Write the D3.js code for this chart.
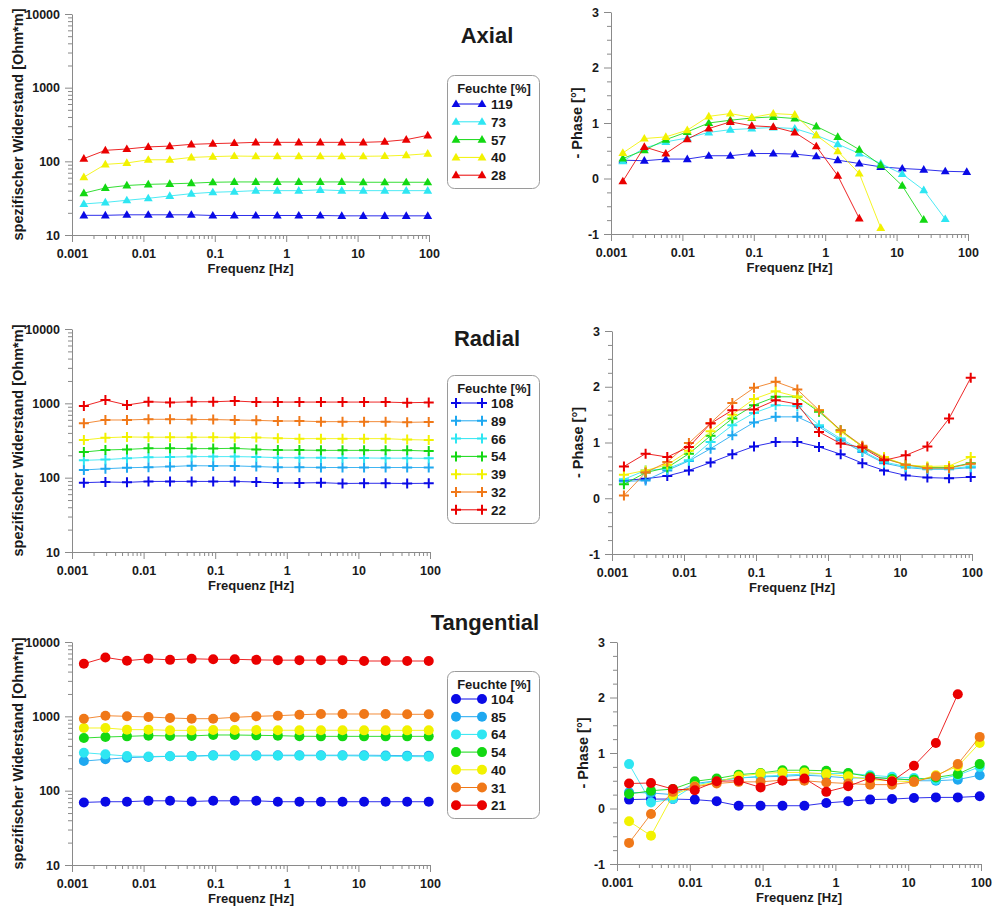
<!DOCTYPE html>
<html><head><meta charset="utf-8">
<script src="https://cdn.jsdelivr.net/npm/d3@7"></script>
<style>
body{margin:0;background:#fff}
svg{display:block}
text{font-family:"Liberation Sans",Arial,Helvetica,sans-serif;font-weight:bold;fill:#1a1a1a}
.tick text{font-size:12.5px}
.domain,.tick line{stroke:#8a8a8a;stroke-width:1}
</style>
</head><body>
<svg id="c" width="997" height="909"></svg>
<script>
// ---------------- data ----------------
const freqHz = [0.001465, 0.00293, 0.00586, 0.0117, 0.0234, 0.0469, 0.0938, 0.1875, 0.375, 0.75, 1.5, 3, 6, 12, 24, 48, 96];
const xTickValues = [0.001, 0.01, 0.1, 1, 10, 100];
const xTickLabels = ["0.001", "0.01", "0.1", "1", "10", "100"];
const resTickValues = [10, 100, 1000, 10000];
const resTickLabels = ["10", "100", "1000", "10000"];
const phaseTickValues = [-1, 0, 1, 2, 3];
const phaseTickLabels = ["-1", "0", "1", "2", "3"];
const panelTitles = ["Axial", "Radial", "Tangential"];

const cBlue = "#0a0ae6", cLightBlue = "#1ea8f0", cCyan = "#2ee6f2", cGreen = "#12d812",
      cYellow = "#f2f200", cOrange = "#f07818", cRed = "#ea0000";

// Axial
const axialMoisture = ["119", "73", "57", "40", "28"];
const axialColors = [cBlue, cCyan, cGreen, cYellow, cRed];
const axialRes119 = [18.5,18.5,18.8,18.8,18.8,18.8,18.4,18.4,18.4,18.4,18.4,18.4,18.2,18.2,18.2,18.2,18.2];
const axialRes73  = [26.4,27.7,29.6,31.5,33.9,36.4,38,38.8,40,40,40,41,40,40,40,40,40];
const axialRes57  = [37,43.5,47,48.7,49.5,50.5,52,52.5,52.5,52.5,52.5,52.5,52.5,52,52,52,52];
const axialRes40  = [61,91,95,105,105,113,116,118,117,117,117,117,117,117,118,121,127];
const axialRes28  = [109,141,147,157,161,170,174,177,181,181,181,181,181,181,185,197,225];
const axialPh119 = [0.33,0.32,0.35,0.35,0.41,0.41,0.45,0.45,0.44,0.40,0.33,0.27,0.21,0.18,0.16,0.13,0.12];
const axialPh73  = [0.31,0.55,0.66,0.73,0.83,0.88,0.90,0.92,0.90,0.78,0.62,0.45,0.27,0.08,-0.21,-0.73,null];
const axialPh57  = [0.36,0.51,0.70,0.84,1.0,1.05,1.09,1.11,1.08,0.94,0.75,0.52,0.24,-0.13,-0.74,null,null];
const axialPh40  = [0.46,0.72,0.75,0.87,1.12,1.17,1.10,1.17,1.15,0.78,0.49,0.09,-0.89,null,null,null,null];
const axialPh28  = [-0.05,0.57,0.45,0.71,0.90,1.02,0.95,0.93,0.83,0.58,0.05,-0.72,null,null,null,null,null];

// Radial
const radialMoisture = ["108", "89", "66", "54", "39", "32", "22"];
const radialColors = [cBlue, cLightBlue, cCyan, cGreen, cYellow, cOrange, cRed];
const radialRes108 = [85.7,87.4,86.5,89,89,89,89,89,87.4,84.8,84.8,85.7,83.5,84,84,83.5,84];
const radialRes89  = [127,132,136,138,141,145,144,144,141,138,138,137,137,137,137,137,137];
const radialRes66  = [171,175,182,188,189,192,192,192,190,186,185,185,184,184,183,183,182];
const radialRes54  = [221,236,240,248,248,246,246,248,240,235,235,233,233,233,233,233,228];
const radialRes39  = [321,345,353,350,350,350,350,348,346,340,335,335,335,335,335,325,321];
const radialRes32  = [538,597,597,610,610,605,605,597,590,578,578,567,567,567,567,555,561];
const radialRes22  = [920,1110,950,1050,1030,1050,1050,1075,1040,1040,1040,1040,1040,1040,1040,1020,1030];
const radialPh108 = [0.32,0.35,0.40,0.50,0.64,0.79,0.93,1.01,1.01,0.92,0.79,0.63,0.50,0.41,0.37,0.36,0.38];
const radialPh89  = [0.30,0.32,0.50,0.67,0.89,1.13,1.36,1.46,1.46,1.28,1.04,0.83,0.63,0.55,0.52,0.52,0.55];
const radialPh66  = [0.34,0.50,0.53,0.68,1.01,1.31,1.53,1.67,1.65,1.31,1.07,0.85,0.65,0.57,0.53,0.53,0.57];
const radialPh54  = [0.25,0.46,0.55,0.80,1.12,1.43,1.67,1.82,1.82,1.55,1.22,0.92,0.72,0.60,0.55,0.55,0.63];
const radialPh39  = [0.42,0.50,0.60,0.85,1.20,1.50,1.78,1.92,1.82,1.58,1.19,0.93,0.74,0.60,0.57,0.58,0.74];
const radialPh32  = [0.05,0.46,0.65,0.99,1.35,1.71,1.98,2.09,1.95,1.58,1.22,0.94,0.71,0.60,0.54,0.54,0.62];
const radialPh22  = [0.57,0.80,0.74,0.92,1.34,1.58,1.59,1.76,1.69,1.19,0.98,0.91,0.68,0.77,0.93,1.43,2.16];

// Tangential
const tangMoisture = ["104", "85", "64", "54", "40", "31", "21"];
const tangColors = [cBlue, cLightBlue, cCyan, cGreen, cYellow, cOrange, cRed];
const tangRes104 = [69.5,71,71,73,73,71.5,73,73,73,71,71,71,71,71,71,71,71];
const tangRes85  = [250,264,278,284,290,292,300,300,300,300,300,300,300,300,298,296,294];
const tangRes64  = [324,308,292,288,290,290,295,295,295,295,295,295,295,292,290,288,286];
const tangRes54  = [511,527,538,550,545,545,561,561,555,550,540,538,538,538,538,538,538];
const tangRes40  = [697,697,662,662,648,648,655,655,655,650,650,650,650,648,648,648,648];
const tangRes31  = [930,1020,1000,980,950,930,930,970,1000,1020,1050,1075,1075,1075,1075,1065,1065];
const tangRes21  = [5100,6200,5600,5950,5750,5950,5850,5850,5750,5700,5700,5700,5700,5550,5550,5550,5550];
const tangPh104 = [0.16,0.17,0.17,0.16,0.13,0.05,0.05,0.05,0.05,0.10,0.13,0.16,0.17,0.19,0.20,0.20,0.22];
const tangPh85  = [0.29,0.28,0.25,0.45,0.50,0.55,0.57,0.58,0.60,0.58,0.55,0.55,0.55,0.50,0.50,0.52,0.60];
const tangPh64  = [0.80,0.11,0.17,0.42,0.50,0.55,0.58,0.60,0.62,0.63,0.63,0.60,0.57,0.55,0.52,0.60,0.75];
const tangPh54  = [0.26,0.32,0.35,0.49,0.54,0.61,0.64,0.69,0.69,0.68,0.64,0.57,0.53,0.52,0.56,0.62,0.80];
const tangPh40  = [-0.23,-0.49,0.24,0.40,0.48,0.58,0.63,0.65,0.65,0.62,0.58,0.52,0.50,0.48,0.60,0.76,1.18];
const tangPh31  = [-0.62,-0.10,0.30,0.39,0.45,0.48,0.48,0.51,0.50,0.47,0.45,0.43,0.43,0.48,0.58,0.80,1.29];
const tangPh21  = [0.45,0.46,0.35,0.33,0.49,0.50,0.38,0.50,0.54,0.30,0.40,0.55,0.49,0.77,1.18,2.06,null];

// --------------- drawing ---------------
const svg = d3.select("#c");

const minorDecades = [0.001, 0.01, 0.1, 1, 10];
const xMinor = [];
minorDecades.forEach(d => { for (let m = 2; m <= 9; m++) xMinor.push(d * m); });
const resMinor = [];
[10, 100, 1000].forEach(d => { for (let m = 2; m <= 9; m++) resMinor.push(d * m); });
const phaseMinor = [-0.75,-0.5,-0.25,0.25,0.5,0.75,1.25,1.5,1.75,2.25,2.5,2.75];

function marker(g, type, color, cx, cy) {
  if (type === "tri") {
    g.append("path").attr("d", d3.symbol(d3.symbolTriangle).size(34)())
      .attr("transform", `translate(${cx},${cy + 0.5})`).attr("fill", color);
  } else if (type === "cross") {
    g.append("path").attr("d", "M-5,0H5M0,-5V5")
      .attr("transform", `translate(${cx},${cy})`).attr("stroke", color).attr("stroke-width", 2).attr("fill", "none");
  } else {
    g.append("circle").attr("cx", cx).attr("cy", cy).attr("r", 5).attr("fill", color);
  }
}

function drawPanel(p) {
  const x = d3.scaleLog().domain([0.001, 100]).range([p.x0, p.x1]);
  const y = p.kind === "res"
    ? d3.scaleLog().domain([10, 10000]).range([p.yBot, p.yTop])
    : d3.scaleLinear().domain([-1, 3]).range([p.yBot, p.yTop]);
  const g = svg.append("g");

  const gx = g.append("g").attr("transform", `translate(0,${p.yBot})`);
  gx.call(d3.axisBottom(x).tickValues(xTickValues).tickFormat((d, i) => xTickLabels[i])
    .tickSize(7).tickSizeOuter(0).tickPadding(7));
  gx.append("g").call(d3.axisBottom(x).tickValues(xMinor).tickSize(4).tickFormat(""))
    .select(".domain").remove();

  const gy = g.append("g").attr("transform", `translate(${p.x0},0)`);
  const yVals = p.kind === "res" ? resTickValues : phaseTickValues;
  const yLabs = p.kind === "res" ? resTickLabels : phaseTickLabels;
  gy.call(d3.axisLeft(y).tickValues(yVals).tickFormat((d, i) => yLabs[i])
    .tickSize(7).tickSizeOuter(0).tickPadding(5));
  gy.append("g").call(d3.axisLeft(y).tickValues(p.kind === "res" ? resMinor : phaseMinor)
    .tickSize(4).tickFormat("")).select(".domain").remove();
  [gx, gy].forEach(a => a.attr("font-size", null).attr("font-family", null));

  g.append("text").attr("x", (p.x0 + p.x1) / 2).attr("y", p.yBot + 38)
    .attr("text-anchor", "middle").style("font-size", "13px").text("Frequenz [Hz]");
  const yc = (p.yTop + p.yBot) / 2;
  g.append("text").attr("transform", `translate(${p.yLabX},${yc}) rotate(-90)`)
    .attr("text-anchor", "middle").style("font-size", "14.5px")
    .text(p.kind === "res" ? "spezifischer Widerstand [Ohm*m]" : "- Phase [°]");

  const line = d3.line().defined(d => d[1] != null)
    .x(d => x(d[0])).y(d => y(d[1]));
  p.series.forEach((vals, si) => {
    const color = p.colors[si];
    const pts = freqHz.map((f, i) => [f, vals[i]]);
    g.append("path").attr("d", line(pts)).attr("fill", "none")
      .attr("stroke", color).attr("stroke-width", 1).attr("stroke-opacity", 0.85);
    const mg = g.append("g");
    pts.filter(d => d[1] != null).forEach(d => marker(mg, p.marker, color, x(d[0]), y(d[1])));
  });
}

function drawLegend(L) {
  const g = svg.append("g");
  g.append("rect").attr("x", 447.5).attr("y", L.top + 0.5).attr("width", 92).attr("height", L.bottom - L.top)
    .attr("rx", 7).attr("fill", "#fff").attr("stroke", "#9a9a9a").attr("stroke-width", 1);
  g.append("text").attr("x", 494).attr("y", L.top + 17.5).attr("text-anchor", "middle")
    .style("font-size", "13px").text("Feuchte [%]");
  L.names.forEach((n, i) => {
    const yy = L.row0 + i * L.step;
    g.append("line").attr("x1", 456).attr("x2", 482).attr("y1", yy).attr("y2", yy)
      .attr("stroke", L.colors[i]).attr("stroke-width", 1);
    marker(g, L.marker, L.colors[i], 456, yy);
    marker(g, L.marker, L.colors[i], 482, yy);
    g.append("text").attr("x", 491).attr("y", yy + 5).style("font-size", "13.5px").text(n);
  });
}

function drawTitle(t, x, y) {
  svg.append("text").attr("x", x).attr("y", y).attr("text-anchor", "middle")
    .style("font-size", "22px").text(t);
}

// Axial
drawPanel({kind: "res", x0: 72, x1: 429, yTop: 14, yBot: 235, yLabX: 23, marker: "tri",
  colors: axialColors, series: [axialRes119, axialRes73, axialRes57, axialRes40, axialRes28]});
drawPanel({kind: "phase", x0: 611, x1: 968, yTop: 12, yBot: 234, yLabX: 582, marker: "tri",
  colors: axialColors, series: [axialPh119, axialPh73, axialPh57, axialPh40, axialPh28]});
drawLegend({top: 75, bottom: 188, row0: 104, step: 17.8, names: axialMoisture, colors: axialColors, marker: "tri"});
drawTitle(panelTitles[0], 487, 43);

// Radial
drawPanel({kind: "res", x0: 72, x1: 430, yTop: 329, yBot: 552, yLabX: 23, marker: "cross",
  colors: radialColors, series: [radialRes108, radialRes89, radialRes66, radialRes54, radialRes39, radialRes32, radialRes22]});
drawPanel({kind: "phase", x0: 612, x1: 972, yTop: 331, yBot: 554, yLabX: 583, marker: "cross",
  colors: radialColors, series: [radialPh108, radialPh89, radialPh66, radialPh54, radialPh39, radialPh32, radialPh22]});
drawLegend({top: 375, bottom: 523, row0: 403, step: 17.8, names: radialMoisture, colors: radialColors, marker: "cross"});
drawTitle(panelTitles[1], 487, 346);

// Tangential
drawPanel({kind: "res", x0: 72, x1: 430, yTop: 642, yBot: 865, yLabX: 23, marker: "circle",
  colors: tangColors, series: [tangRes104, tangRes85, tangRes64, tangRes54, tangRes40, tangRes31, tangRes21]});
drawPanel({kind: "phase", x0: 617, x1: 981, yTop: 642, yBot: 864, yLabX: 588, marker: "circle",
  colors: tangColors, series: [tangPh104, tangPh85, tangPh64, tangPh54, tangPh40, tangPh31, tangPh21]});
drawLegend({top: 671, bottom: 818, row0: 699, step: 17.7, names: tangMoisture, colors: tangColors, marker: "circle"});
drawTitle(panelTitles[2], 485, 630);
</script>
</body></html>
